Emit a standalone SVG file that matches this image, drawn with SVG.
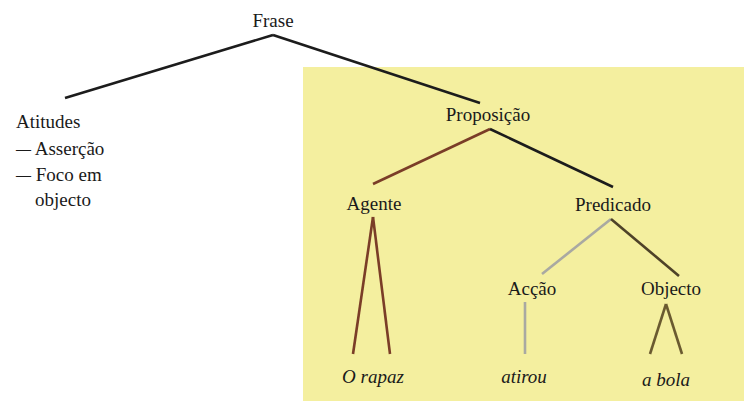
<svg xmlns="http://www.w3.org/2000/svg" width="747" height="410" viewBox="0 0 747 410">
<style>
text{font-family:"Liberation Serif","Times New Roman",serif;font-size:19px;fill:#1a1a1a}
.c{text-anchor:middle}
.i{font-style:italic}
.d{font-size:15px;font-weight:bold}
line{stroke-width:2.6;stroke-linecap:butt}
.k{stroke:#1c1c1c}
.b{stroke:#7a3d27}
.g{stroke:#a9a9a2}
.o{stroke:#4e4228}
.ol{stroke:#6a5a30}
</style>
<rect x="303" y="67" width="441" height="334" fill="#f4ef9f"/>
<g id="connectors">
<line class="k" x1="273" y1="35" x2="65" y2="98"/>
<line class="k" x1="273" y1="35" x2="480" y2="103"/>
<line class="b" x1="490" y1="129" x2="373" y2="184"/>
<line class="k" x1="490" y1="129" x2="613" y2="187"/>
<line class="b" x1="373" y1="217" x2="353" y2="354"/>
<line class="b" x1="373" y1="217" x2="390" y2="354"/>
<line class="g" x1="611" y1="219" x2="542" y2="274"/>
<line class="o" x1="611" y1="219" x2="679" y2="276"/>
<line class="g" x1="525" y1="302" x2="525" y2="354"/>
<line class="ol" x1="666" y1="304" x2="650" y2="354"/>
<line class="ol" x1="666" y1="304" x2="682" y2="354"/>
</g>
<g id="frase"><text class="c" x="273" y="27">Frase</text></g>
<g id="atitudes">
<text x="16" y="128">Atitudes</text>
<text x="16" y="155"><tspan class="d" dy="-1.5">—</tspan><tspan dy="1.5"> Asserção</tspan></text>
<text x="16" y="181"><tspan class="d" dy="-1.5">—</tspan><tspan dy="1.5">  Foco em</tspan></text>
<text x="35" y="206">objecto</text>
</g>
<g id="proposicao"><text class="c" x="488" y="121">Proposição</text></g>
<g id="agente"><text class="c" x="374" y="210">Agente</text></g>
<g id="predicado"><text class="c" x="613" y="211">Predicado</text></g>
<g id="accao"><text class="c" x="532" y="295">Acção</text></g>
<g id="objecto"><text class="c" x="671" y="295">Objecto</text></g>
<g id="orapaz"><text class="c i" x="373" y="383">O rapaz</text></g>
<g id="atirou"><text class="c i" x="524" y="383">atirou</text></g>
<g id="abola"><text class="c i" x="666" y="386">a bola</text></g>
</svg>
